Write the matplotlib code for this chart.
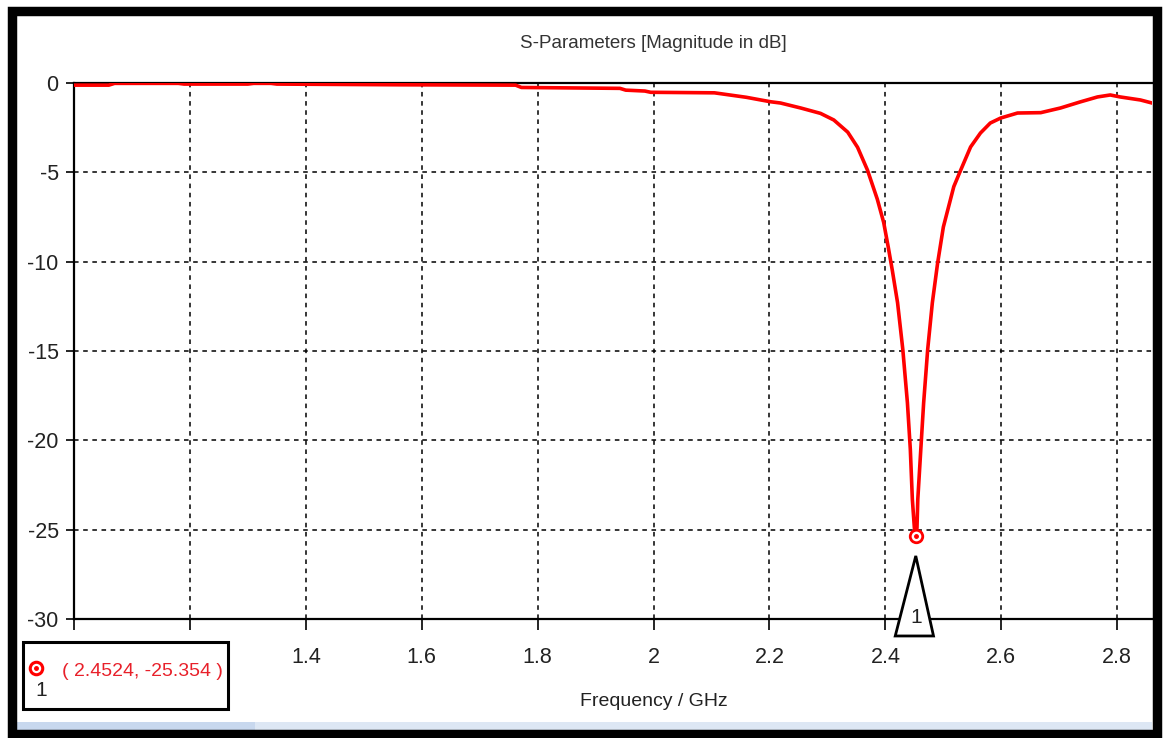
import matplotlib
matplotlib.use("Agg")
import matplotlib.pyplot as plt
from matplotlib.patches import Rectangle, Polygon
from matplotlib.transforms import blended_transform_factory

plt.rcParams['font.family'] = ['Liberation Sans', 'DejaVu Sans']

# S11 (GHz, dB)
freq = [1.000, 1.060, 1.070, 1.180, 1.190, 1.300, 1.310, 1.340, 1.350, 1.560,
        1.762, 1.772, 1.942, 1.952, 1.985, 1.995, 2.105, 2.160, 2.185, 2.202,
        2.219, 2.254, 2.288, 2.311, 2.335, 2.352, 2.369, 2.386, 2.397, 2.405,
        2.412, 2.421, 2.430, 2.438, 2.443, 2.4465, 2.4500, 2.4524, 2.4545, 2.4559,
        2.4611, 2.466, 2.473, 2.481, 2.490, 2.500, 2.518, 2.530, 2.547, 2.564,
        2.581, 2.599, 2.628, 2.668, 2.702, 2.736, 2.766, 2.788, 2.805, 2.840,
        2.860]
s11 = [-0.12, -0.12, -0.02, -0.02, -0.06, -0.06, -0.02, -0.02, -0.06, -0.10,
       -0.12, -0.25, -0.30, -0.40, -0.45, -0.52, -0.55, -0.80, -0.95, -1.05,
       -1.12, -1.40, -1.70, -2.07, -2.75, -3.60, -4.87, -6.50, -7.80, -9.20,
       -10.5, -12.3, -14.9, -17.9, -20.5, -23.3, -24.9, -25.354, -24.9, -23.3,
       -20.5, -17.9, -14.9, -12.3, -10.1, -8.06, -5.80, -4.87, -3.58, -2.80,
       -2.24, -1.96, -1.68, -1.66, -1.40, -1.06, -0.78, -0.67, -0.78, -0.95,
       -1.12]

marker_f = 2.4524
marker_db = -25.354

xticks = [1.0, 1.2, 1.4, 1.6, 1.8, 2.0, 2.2, 2.4, 2.6, 2.8]
# labels for 1 and 1.2 sit under the marker readout box in the original
xtick_labels = ['', '', '1.4', '1.6', '1.8', '2', '2.2', '2.4', '2.6', '2.8']
yticks = [0, -5, -10, -15, -20, -25, -30]

W, H = 1164, 738
fig = plt.figure(figsize=(W / 100, H / 100), dpi=100)
ax = fig.add_axes([74 / W, 1 - 619 / H, (1152 - 74) / W, (619 - 83) / H])

ax.plot(freq, s11, color='#ff0000', lw=2.6, zorder=3, solid_joinstyle='round')
ax.plot([marker_f], [marker_db], 'o', ms=9, mfc='white', mec='#ff0000', mew=2, zorder=4)
ax.plot([marker_f], [marker_db], 'o', ms=2.5, color='#ff0000', zorder=5)

ax.set_xlim(1.0, 2.86)
ax.set_ylim(-30, 0)
ax.set_xticks(xticks)
ax.set_xticklabels(xtick_labels)
ax.set_yticks(yticks)
ax.set_yticklabels([str(v) for v in yticks])
ax.tick_params(axis='both', colors='black', labelcolor='#222222', labelsize=15.5, width=1.2)
ax.tick_params(axis='x', length=8, pad=12)
ax.tick_params(axis='y', length=6, pad=5)
ax.grid(True, color='black', linestyle=(0, (3, 3)), lw=1.1)
for side in ['left', 'bottom', 'top']:
    ax.spines[side].set_linewidth(1.6)
ax.spines['right'].set_visible(False)

# title and x label are centred on the full 1-3 GHz range of the original plot
tr = blended_transform_factory(ax.transData, fig.transFigure)
ax.text(2.0, 1 - 44 / H, 'S-Parameters [Magnitude in dB]', transform=tr,
        ha='center', va='center', fontsize=13.5, color='#333333')
ax.text(2.0, 1 - 701 / H, 'Frequency / GHz', transform=tr,
        ha='center', va='center', fontsize=14, color='#222222')

# marker triangle under the dip
tri = Polygon([[2.417, -30.95], [2.483, -30.95], [marker_f, -26.47]], closed=True,
              facecolor='white', edgecolor='black', lw=2, clip_on=False, zorder=6)
ax.add_patch(tri)
ax.text(marker_f, -29.9, '1', ha='center', va='center', fontsize=15, color='#222222',
        zorder=7, clip_on=False)

# marker readout box
fig.patches.append(Rectangle((23 / W, 1 - 709 / H), 205 / W, 67 / H, transform=fig.transFigure,
                             facecolor='white', edgecolor='black', lw=2.2, zorder=10))
fig.lines.append(plt.Line2D([36 / W], [1 - 668 / H], transform=fig.transFigure, marker='o',
                            ms=9, mfc='white', mec='#ff0000', mew=2.2, zorder=11))
fig.lines.append(plt.Line2D([36 / W], [1 - 668 / H], transform=fig.transFigure, marker='o',
                            ms=2.5, color='#ff0000', zorder=12))
fig.text(41 / W, 1 - 691 / H, '1', ha='center', va='center', fontsize=15, color='#222222', zorder=12)
fig.text(62 / W, 1 - 672 / H, '( 2.4524, -25.354 )', ha='left', va='center', fontsize=14,
         color='#e8202a', zorder=12)

# scrollbar strip and screenshot frame
fig.patches.append(Rectangle((16 / W, 1 - 730 / H), (1152 - 16) / W, 8 / H, transform=fig.transFigure,
                             facecolor='#dde7f4', edgecolor='none', zorder=8))
fig.patches.append(Rectangle((16 / W, 1 - 730 / H), (255 - 16) / W, 8 / H, transform=fig.transFigure,
                             facecolor='#c8d8ee', edgecolor='none', zorder=9))
fig.patches.append(Rectangle((11.5 / W, 1 - 734 / H), (1157 - 11.5) / W, (734 - 11) / H,
                             transform=fig.transFigure, facecolor='none', edgecolor='black',
                             lw=6.8, zorder=20))

fig.savefig('out.png', dpi=100)
